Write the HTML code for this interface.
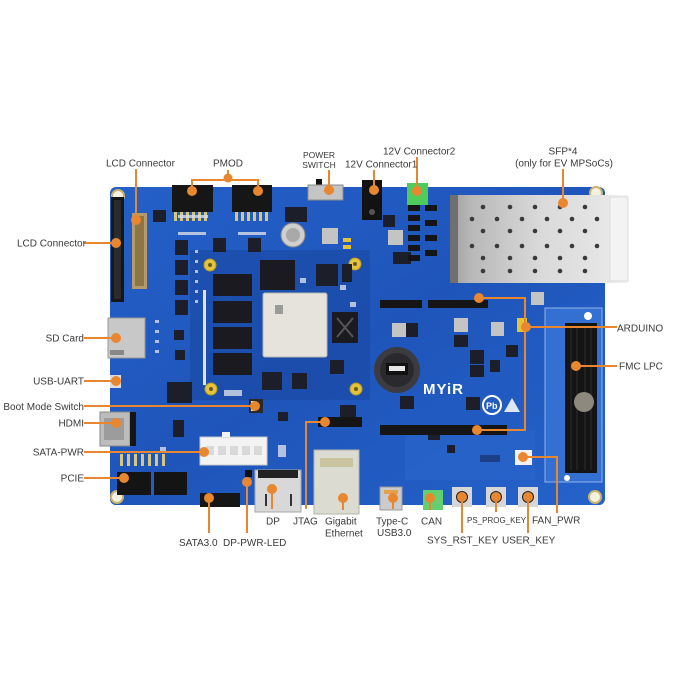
<!DOCTYPE html>
<html><head><meta charset="utf-8"><style>
html,body{margin:0;padding:0;background:#fff;}
svg{display:block;}
text{font-family:"Liberation Sans",Arial,sans-serif;fill:#3a3a3a;font-size:10px;}
</style></head><body>
<svg width="700" height="700" viewBox="0 0 700 700" xmlns="http://www.w3.org/2000/svg">
<defs>
<linearGradient id="sfp" x1="0" y1="0" x2="1" y2="0">
<stop offset="0" stop-color="#9e9e9e"/><stop offset="0.12" stop-color="#b8b8b8"/><stop offset="0.5" stop-color="#d9d9d9"/><stop offset="0.88" stop-color="#e6e6e6"/><stop offset="1" stop-color="#f4f4f4"/>
</linearGradient>
<linearGradient id="brd" x1="0" y1="0" x2="1" y2="1">
<stop offset="0" stop-color="#2460c8"/><stop offset="0.5" stop-color="#1f55bb"/><stop offset="1" stop-color="#2462c9"/>
</linearGradient>
</defs>
<rect width="700" height="700" fill="#fff"/>
<!-- board -->
<rect x="110" y="187" width="495" height="318" rx="6" fill="url(#brd)"/>
<rect x="190" y="250" width="180" height="150" fill="#1b4aa6" opacity="0.7"/>
<rect x="545" y="308" width="57" height="174" fill="#3470d2" stroke="#8fb2ea" stroke-width="1"/>
<rect x="405" y="430" width="130" height="50" fill="#2a66cc" opacity="0.6"/>
<!-- mounting holes -->
<circle cx="118" cy="196" r="6" fill="#f5f1e0" stroke="#c9b46a" stroke-width="2"/>
<circle cx="596" cy="193" r="6" fill="#f5f1e0" stroke="#c9b46a" stroke-width="2"/>
<circle cx="117" cy="497" r="6" fill="#f5f1e0" stroke="#c9b46a" stroke-width="2"/>
<circle cx="595" cy="497" r="6" fill="#f5f1e0" stroke="#c9b46a" stroke-width="2"/>
<circle cx="588" cy="316" r="4" fill="#fff"/>
<circle cx="567" cy="478" r="3" fill="#fff"/>
<!-- gold vias -->
<g fill="#e3c43c" stroke="#b89820" stroke-width="1">
<circle cx="210" cy="265" r="6"/><circle cx="355" cy="264" r="6"/><circle cx="211" cy="389" r="6"/><circle cx="356" cy="389" r="6"/>
</g>
<g fill="#6b5a20"><circle cx="210" cy="265" r="2"/><circle cx="355" cy="264" r="2"/><circle cx="211" cy="389" r="2"/><circle cx="356" cy="389" r="2"/></g>
<!-- left LCD connector -->
<rect x="111" y="197" width="13" height="105" fill="#161616"/>
<rect x="114" y="200" width="7" height="99" fill="#2b2b2b"/>
<!-- FPC -->
<rect x="132" y="213" width="15" height="76" fill="#b49a6a"/>
<rect x="135" y="216" width="9" height="70" fill="#8e7546"/>
<!-- PMODs -->
<rect x="172" y="185" width="41" height="27" fill="#161616"/>
<rect x="232" y="185" width="40" height="27" fill="#161616"/>
<g fill="#d8c67a">
<rect x="174" y="212" width="3" height="9"/><rect x="180" y="212" width="3" height="9"/><rect x="186" y="212" width="3" height="9"/><rect x="192" y="212" width="3" height="9"/><rect x="198" y="212" width="3" height="9"/><rect x="204" y="212" width="3" height="9"/>
<rect x="235" y="212" width="3" height="9"/><rect x="241" y="212" width="3" height="9"/><rect x="247" y="212" width="3" height="9"/><rect x="253" y="212" width="3" height="9"/><rect x="259" y="212" width="3" height="9"/><rect x="265" y="212" width="3" height="9"/>
</g>
<!-- power switch, 12V -->
<rect x="316" y="179" width="6" height="7" fill="#111"/>
<rect x="308" y="185" width="35" height="15" fill="#c4c4c4" stroke="#8a8a8a"/>
<rect x="362" y="180" width="20" height="40" fill="#121212"/>
<circle cx="372" cy="212" r="3" fill="#555"/>
<rect x="407" y="183" width="21" height="22" fill="#4fcb5c"/>
<!-- small components field -->
<g fill="#1c1f2a">
<rect x="153" y="210" width="13" height="12"/>
<rect x="175" y="240" width="13" height="15"/><rect x="175" y="260" width="13" height="15"/><rect x="175" y="280" width="13" height="15"/><rect x="175" y="300" width="13" height="15"/>
<rect x="213" y="238" width="13" height="14"/><rect x="248" y="238" width="13" height="14"/>
<rect x="167" y="382" width="25" height="21"/><rect x="173" y="420" width="11" height="17"/>
<rect x="174" y="330" width="10" height="10"/><rect x="175" y="350" width="10" height="10"/>
<rect x="285" y="207" width="22" height="15"/>
<rect x="316" y="264" width="22" height="22"/><rect x="342" y="264" width="10" height="18"/>
<rect x="383" y="215" width="12" height="12"/>
<rect x="393" y="252" width="18" height="12"/>
<rect x="404" y="323" width="14" height="14"/>
<rect x="454" y="335" width="14" height="12"/><rect x="470" y="350" width="14" height="14"/>
<rect x="470" y="365" width="14" height="12"/>
<rect x="400" y="396" width="14" height="13"/><rect x="466" y="397" width="14" height="13"/>
<rect x="506" y="345" width="12" height="12"/><rect x="490" y="360" width="10" height="12"/>
<rect x="262" y="372" width="20" height="18"/><rect x="292" y="373" width="15" height="16"/>
<rect x="330" y="360" width="14" height="14"/>
<rect x="340" y="405" width="16" height="12"/>
<rect x="278" y="412" width="10" height="9"/>
<rect x="428" y="430" width="12" height="10"/><rect x="447" y="445" width="8" height="8"/>
</g>
<g fill="#c4c4c4">
<rect x="322" y="228" width="16" height="16"/><rect x="388" y="230" width="15" height="15"/>
<rect x="392" y="323" width="14" height="14"/><rect x="454" y="318" width="14" height="14"/><rect x="491" y="322" width="13" height="14"/>
<rect x="531" y="292" width="13" height="13"/>
</g>
<g fill="#151515">
<rect x="408" y="205" width="12" height="6"/><rect x="408" y="215" width="12" height="6"/><rect x="408" y="225" width="12" height="6"/><rect x="408" y="235" width="12" height="6"/><rect x="408" y="245" width="12" height="6"/><rect x="408" y="255" width="12" height="6"/>
<rect x="425" y="205" width="12" height="6"/><rect x="425" y="220" width="12" height="6"/><rect x="425" y="235" width="12" height="6"/><rect x="425" y="250" width="12" height="6"/>
</g>
<g fill="#e6c236"><rect x="343" y="238" width="8" height="4"/><rect x="343" y="245" width="8" height="4"/><rect x="517" y="318" width="10" height="14"/></g>
<g fill="#d9dde8" opacity="0.8">
<rect x="155" y="320" width="4" height="3"/><rect x="155" y="330" width="4" height="3"/><rect x="155" y="340" width="4" height="3"/><rect x="155" y="350" width="4" height="3"/>
<rect x="195" y="250" width="3" height="3"/><rect x="195" y="260" width="3" height="3"/><rect x="195" y="270" width="3" height="3"/><rect x="195" y="280" width="3" height="3"/><rect x="195" y="290" width="3" height="3"/><rect x="195" y="300" width="3" height="3"/>
<rect x="224" y="390" width="18" height="6"/>
<rect x="275" y="276" width="6" height="5"/><rect x="300" y="278" width="6" height="5"/><rect x="350" y="302" width="6" height="5"/><rect x="340" y="285" width="6" height="5"/>
<rect x="160" y="447" width="6" height="5"/><rect x="278" y="445" width="8" height="12"/>
<rect x="178" y="215" width="30" height="3"/><rect x="238" y="232" width="28" height="3"/><rect x="178" y="232" width="28" height="3"/>
</g>
<g fill="#ffffff" opacity="0.85"><rect x="203" y="290" width="3" height="95"/></g>
<!-- SFP cage -->
<rect x="450" y="195" width="178" height="88" fill="url(#sfp)"/>
<rect x="450" y="195" width="8" height="88" fill="#6f6f6f"/>
<rect x="610" y="197" width="18" height="84" fill="#f3f3f3" stroke="#dcdcdc"/>
<g fill="#3a3a3a">
<circle cx="483" cy="207" r="2.3"/><circle cx="510" cy="207" r="2.3"/><circle cx="535" cy="207" r="2.3"/><circle cx="560" cy="207" r="2.3"/><circle cx="585" cy="207" r="2.3"/>
<circle cx="472" cy="219" r="2.3"/><circle cx="497" cy="219" r="2.3"/><circle cx="522" cy="219" r="2.3"/><circle cx="547" cy="219" r="2.3"/><circle cx="572" cy="219" r="2.3"/><circle cx="597" cy="219" r="2.3"/>
<circle cx="483" cy="231" r="2.3"/><circle cx="510" cy="231" r="2.3"/><circle cx="535" cy="231" r="2.3"/><circle cx="560" cy="231" r="2.3"/><circle cx="585" cy="231" r="2.3"/>
<circle cx="472" cy="246" r="2.3"/><circle cx="497" cy="246" r="2.3"/><circle cx="522" cy="246" r="2.3"/><circle cx="547" cy="246" r="2.3"/><circle cx="572" cy="246" r="2.3"/><circle cx="597" cy="246" r="2.3"/>
<circle cx="483" cy="258" r="2.3"/><circle cx="510" cy="258" r="2.3"/><circle cx="535" cy="258" r="2.3"/><circle cx="560" cy="258" r="2.3"/><circle cx="585" cy="258" r="2.3"/>
<circle cx="483" cy="271" r="2.3"/><circle cx="510" cy="271" r="2.3"/><circle cx="535" cy="271" r="2.3"/><circle cx="560" cy="271" r="2.3"/><circle cx="585" cy="271" r="2.3"/>
</g>
<!-- capacitor -->
<circle cx="293" cy="235" r="12" fill="#cfcfcf" stroke="#888"/>
<circle cx="293" cy="235" r="7" fill="#a9a9a9"/>
<!-- DDR, Zynq -->
<g fill="#1a1a20">
<rect x="213" y="274" width="39" height="22"/><rect x="213" y="301" width="39" height="22"/><rect x="213" y="327" width="39" height="22"/><rect x="213" y="353" width="39" height="22"/>
<rect x="260" y="260" width="35" height="30"/>
<rect x="332" y="312" width="26" height="31"/>
</g>
<path d="M337 318 L353 337 M353 318 L337 337" stroke="#555" stroke-width="2"/>
<rect x="263" y="293" width="64" height="64" rx="2" fill="#e5e3db" stroke="#b5b5b0"/>
<rect x="275" y="305" width="8" height="9" fill="#9a9a9a"/>
<!-- battery -->
<circle cx="397" cy="370" r="23" fill="#3b3b40"/>
<circle cx="397" cy="370" r="17" fill="#2a2a2e"/>
<rect x="386" y="363" width="22" height="12" fill="#111"/>
<rect x="389" y="366" width="16" height="5" fill="#e6e6e6"/>
<!-- MYIR logo -->
<text x="423" y="394" style="font-size:15px;font-weight:bold;fill:#ffffff;letter-spacing:1px">MYiR</text>
<circle cx="492" cy="405" r="9" fill="none" stroke="#ffffff" stroke-width="2"/>
<text x="486" y="409" style="font-size:9px;font-weight:bold;fill:#fff">Pb</text>
<path d="M512 398 L504 412 L520 412 Z" fill="#ffffff" opacity="0.85"/>
<!-- Arduino headers -->
<rect x="380" y="300" width="42" height="8" fill="#151515"/>
<rect x="428" y="300" width="60" height="8" fill="#151515"/>
<rect x="380" y="425" width="127" height="10" fill="#151515"/>
<!-- FMC -->
<rect x="565" y="323" width="32" height="150" fill="#141414"/>
<g stroke="#2e2e2e" stroke-width="1"><path d="M571 326 V470 M577 326 V470 M585 326 V470 M591 326 V470"/></g>
<circle cx="584" cy="402" r="10" fill="#8d897e"/>
<!-- left side connectors -->
<rect x="108" y="318" width="37" height="40" fill="#c8c8c8" stroke="#999"/>
<rect x="110" y="350" width="14" height="5" fill="#888"/>
<rect x="110" y="375" width="11" height="13" fill="#dcdcdc"/>
<rect x="100" y="412" width="30" height="34" fill="#bcbcbc" stroke="#888"/>
<rect x="104" y="418" width="20" height="22" fill="#9c9c9c"/>
<rect x="130" y="412" width="6" height="34" fill="#151515"/>
<rect x="200" y="437" width="67" height="28" fill="#f3f3f3" stroke="#c8c8c8"/>
<rect x="222" y="432" width="8" height="5" fill="#f3f3f3"/>
<g fill="#d9d9d9"><rect x="206" y="446" width="8" height="9"/><rect x="218" y="446" width="8" height="9"/><rect x="230" y="446" width="8" height="9"/><rect x="242" y="446" width="8" height="9"/><rect x="254" y="446" width="8" height="9"/></g>
<g fill="#d8c67a"><rect x="120" y="454" width="3" height="12"/><rect x="127" y="454" width="3" height="12"/><rect x="134" y="454" width="3" height="12"/><rect x="141" y="454" width="3" height="12"/><rect x="148" y="454" width="3" height="12"/><rect x="155" y="454" width="3" height="12"/><rect x="162" y="454" width="3" height="12"/></g>
<rect x="117" y="472" width="70" height="23" fill="#141414"/>
<rect x="151" y="472" width="3" height="23" fill="#2a5cbf"/>
<rect x="200" y="493" width="40" height="14" fill="#161616"/>
<rect x="245" y="470" width="7" height="7" fill="#111"/>
<!-- DP -->
<rect x="255" y="470" width="46" height="42" fill="#d8d8d8" stroke="#a8a8a8"/>
<rect x="258" y="470" width="40" height="8" fill="#222"/>
<path d="M266 494 V506 M291 494 V506" stroke="#333" stroke-width="2"/>
<!-- JTAG -->
<rect x="318" y="417" width="44" height="10" fill="#151515"/>
<!-- Ethernet -->
<rect x="314" y="450" width="45" height="64" fill="#dcdbd2" stroke="#b1b1aa"/>
<rect x="320" y="458" width="33" height="9" fill="#c9c3a0"/>
<!-- Type-C, CAN, buttons -->
<rect x="380" y="487" width="22" height="23" fill="#cbcbcb" stroke="#999"/>
<rect x="384" y="490" width="14" height="4" fill="#e6a24a"/>
<rect x="423" y="490" width="20" height="20" fill="#62d06e"/>
<rect x="452" y="487" width="20" height="20" fill="#d6d6d6"/><circle cx="462" cy="497" r="6" fill="#222"/>
<rect x="486" y="487" width="20" height="20" fill="#d6d6d6"/><circle cx="496" cy="497" r="6" fill="#222"/>
<rect x="518" y="487" width="20" height="20" fill="#d6d6d6"/><circle cx="528" cy="497" r="6" fill="#222"/>
<rect x="515" y="450" width="17" height="15" fill="#f2f2f2"/>
<rect x="480" y="455" width="20" height="7" fill="#1b3f88"/>
<!-- boot switch -->
<rect x="249" y="399" width="14" height="14" fill="#2a2a2a"/>
<g fill="#e0e0e0"><rect x="251" y="401" width="4" height="2"/><rect x="251" y="405" width="4" height="2"/><rect x="251" y="409" width="4" height="2"/></g>

<!-- ===== callouts ===== -->
<g stroke="#e8872f" stroke-width="2" fill="none">
<path d="M136 169 V220"/>
<path d="M228 170 V180 M192 192 V180 H258 V192"/>
<path d="M329 170 V190"/>
<path d="M374 170 V190"/>
<path d="M417 157 V191"/>
<path d="M563 169 V203"/>
<path d="M84 243 H116"/>
<path d="M84 338 H116"/>
<path d="M84 381 H116"/>
<path d="M84 406 H255"/>
<path d="M84 423 H116"/>
<path d="M84 452 H204"/>
<path d="M84 478 H124"/>
<path d="M209 498 V533"/>
<path d="M247 482 V533"/>
<path d="M272 489 V509"/>
<path d="M306 509 V422 H325"/>
<path d="M343 498 V510"/>
<path d="M393 498 V509"/>
<path d="M430 498 V510"/>
<path d="M462 497 V533"/>
<path d="M496 497 V512"/>
<path d="M528 497 V533"/>
<path d="M523 457 H557 V513"/>
<path d="M479 298 H525 V430 H477 M525 327 H617"/>
<path d="M576 366 H617"/>
</g>
<g fill="#e8872f">
<circle cx="136" cy="220" r="5"/>
<circle cx="228" cy="178" r="4.5"/><circle cx="192" cy="191" r="5"/><circle cx="258" cy="191" r="5"/>
<circle cx="329" cy="190" r="5"/><circle cx="374" cy="190" r="5"/><circle cx="417" cy="191" r="5"/>
<circle cx="563" cy="203" r="5"/>
<circle cx="116" cy="243" r="5"/><circle cx="116" cy="338" r="5"/><circle cx="116" cy="381" r="5"/>
<circle cx="255" cy="406" r="5"/><circle cx="116" cy="423" r="5"/><circle cx="204" cy="452" r="5"/><circle cx="124" cy="478" r="5"/>
<circle cx="209" cy="498" r="5"/><circle cx="247" cy="482" r="5"/><circle cx="272" cy="489" r="5"/>
<circle cx="325" cy="422" r="5"/><circle cx="343" cy="498" r="5"/><circle cx="393" cy="498" r="5"/><circle cx="430" cy="498" r="5"/>
<circle cx="462" cy="497" r="5"/><circle cx="496" cy="497" r="5"/><circle cx="528" cy="497" r="5"/>
<circle cx="523" cy="457" r="5"/>
<circle cx="479" cy="298" r="5"/><circle cx="477" cy="430" r="5"/><circle cx="526" cy="327" r="5"/>
<circle cx="576" cy="366" r="5"/>
</g>

<!-- labels -->
<text x="106" y="166.5">LCD Connector</text>
<text x="228" y="166.5" text-anchor="middle">PMOD</text>
<text x="319" y="158" text-anchor="middle" style="font-size:8.5px">POWER</text>
<text x="319" y="168" text-anchor="middle" style="font-size:8.5px">SWITCH</text>
<text x="345" y="167.5">12V Connector1</text>
<text x="383" y="154.5">12V Connector2</text>
<text x="563" y="154.5" text-anchor="middle">SFP*4</text>
<text x="564" y="166.5" text-anchor="middle">(only for EV MPSoCs)</text>
<text x="17" y="246.5">LCD Connector</text>
<text x="84" y="341.5" text-anchor="end">SD Card</text>
<text x="84" y="384.5" text-anchor="end">USB-UART</text>
<text x="84" y="410" text-anchor="end">Boot Mode Switch</text>
<text x="84" y="426.5" text-anchor="end">HDMI</text>
<text x="84" y="455.5" text-anchor="end">SATA-PWR</text>
<text x="84" y="481.5" text-anchor="end">PCIE</text>
<text x="179" y="546">SATA3.0</text>
<text x="223" y="546">DP-PWR-LED</text>
<text x="266" y="524.5">DP</text>
<text x="293" y="524.5">JTAG</text>
<text x="325" y="524.5">Gigabit</text>
<text x="325" y="536.5">Ethernet</text>
<text x="376" y="524.5">Type-C</text>
<text x="377" y="536">USB3.0</text>
<text x="421" y="524.5">CAN</text>
<text x="427" y="543.5">SYS_RST_KEY</text>
<text x="467" y="523" style="font-size:8px">PS_PROG_KEY</text>
<text x="502" y="543.5">USER_KEY</text>
<text x="532" y="523.5">FAN_PWR</text>
<text x="617" y="331.5">ARDUINO</text>
<text x="619" y="369.5">FMC LPC</text>
</svg>
</body></html>
